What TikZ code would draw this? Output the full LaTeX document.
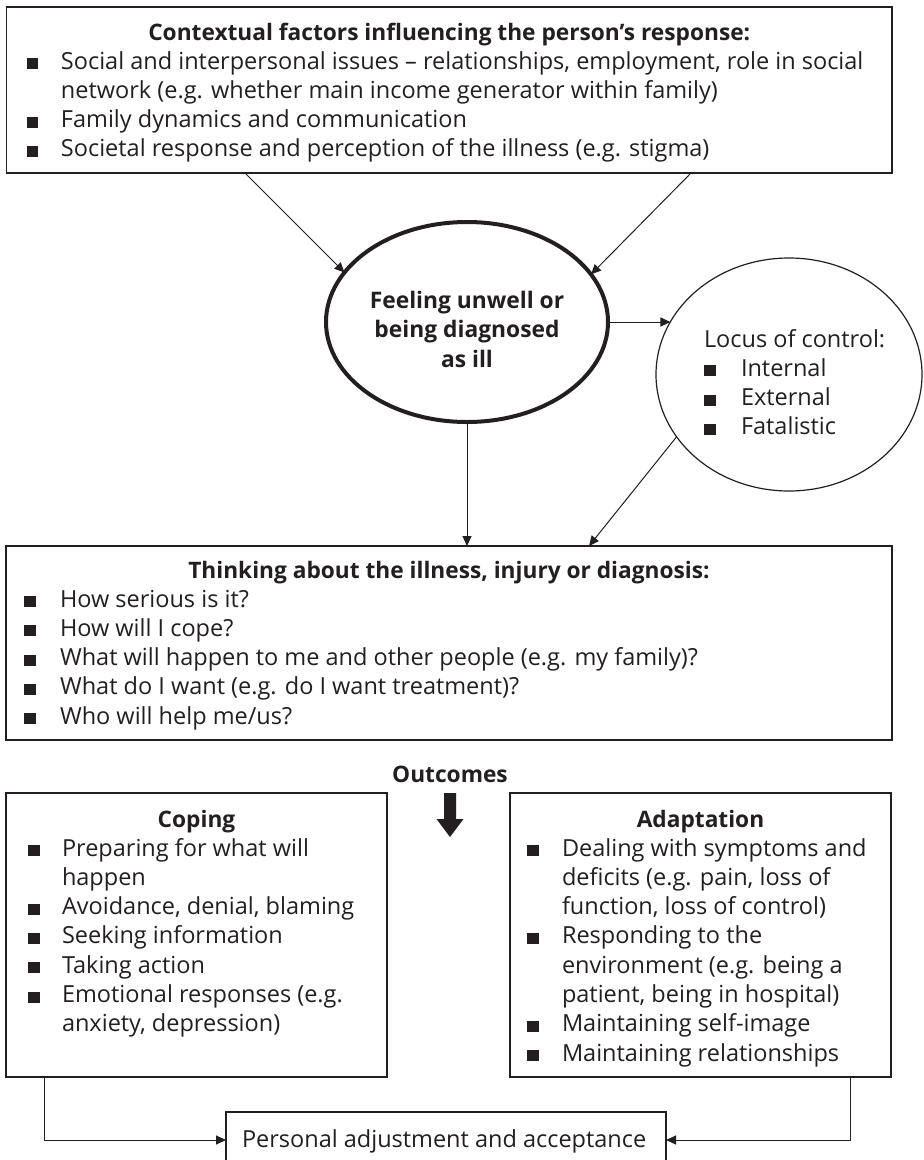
\documentclass[tikz,border=0pt]{standalone}
\usepackage{fontspec}
\setmainfont{Open Sans}
\usetikzlibrary{arrows.meta,shapes.geometric}
\definecolor{ink}{RGB}{35,31,32}
\newcommand{\bsq}{\rule{11.5pt}{11pt}}
\newcommand{\bitem}[2][34pt]{\par\noindent\hangindent=#1\hangafter=1\makebox[#1][l]{\bsq}#2}
\begin{document}
\begin{tikzpicture}[x=1pt,y=-1pt,
  box/.style={draw=ink, line width=1.2pt, rectangle, inner sep=0pt, outer sep=0pt},
  oval/.style={draw=ink, ellipse, inner sep=0pt, outer sep=0pt},
  txt/.style={inner sep=0pt, outer sep=0pt, text=ink, font=\fontsize{23.5}{29.3}\selectfont},
  ttl/.style={txt, font=\fontsize{22.7}{29.3}\selectfont\bfseries, anchor=base},
  lst/.style={txt, anchor=base west},
  arr/.style={draw=ink, line width=1pt, -{Triangle[length=10pt,width=9pt]}}]
\useasboundingbox (0,0) rectangle (924,1160);
\clip (0,0) rectangle (924,1160);
\fill[white] (0,0) rectangle (924,1160);

% boxes and ellipses
\node[box, minimum width=885.5pt, minimum height=166pt] (ctx) at (449.25,90) {};
\node[oval, line width=4pt, minimum width=282pt, minimum height=200pt] (ill) at (467,322) {};
\node[oval, line width=1.2pt, minimum width=266pt, minimum height=233pt] (loc) at (789,374.5) {};
\node[box, minimum width=886pt, minimum height=194pt] (think) at (449,643) {};
\node[box, minimum width=381pt, minimum height=284pt] (cope) at (196.5,935) {};
\node[box, minimum width=381pt, minimum height=284pt] (adapt) at (700.5,935) {};
\node[box, minimum width=440pt, minimum height=56pt] (pers) at (446,1140) {};

% texts
\node[ttl] (ctxT) at (449.25,40) {Contextual factors influencing the person’s response:};
\node[lst] (ctxL) at (27,69) {\parbox[t]{1000pt}{
  \bitem{Social and interpersonal issues – relationships, employment, role in social\newline network (e.g. whether main income generator within family)}
  \bitem{Family dynamics and communication}
  \bitem{Societal response and perception of the illness (e.g. stigma)}}};

\node[txt, anchor=base] (illT) at (467,308) {\parbox[t]{280pt}{\centering\fontsize{22.8}{29.5}\selectfont\bfseries Feeling unwell or\\being diagnosed\\as ill}};

\node[lst] (locL) at (704,347) {\parbox[t]{1000pt}{\noindent Locus of control:
  \bitem[37pt]{Internal}
  \bitem[37pt]{External}
  \bitem[37pt]{Fatalistic}}};

\node[ttl] (thinkT) at (449,578) {Thinking about the illness, injury or diagnosis:};
\node[lst] (thinkL) at (24,607) {\parbox[t]{1000pt}{
  \bitem[36pt]{How serious is it?}
  \bitem[36pt]{How will I cope?}
  \bitem[36pt]{What will happen to me and other people (e.g. my family)?}
  \bitem[36pt]{What do I want (e.g. do I want treatment)?}
  \bitem[36pt]{Who will help me/us?}}};

\node[ttl] (outT) at (450,782) {Outcomes};

\node[ttl] (copeT) at (196.5,827) {Coping};
\node[lst] (copeL) at (28,856) {\parbox[t]{1000pt}{
  \bitem{Preparing for what will\newline happen}
  \bitem{Avoidance, denial, blaming}
  \bitem{Seeking information}
  \bitem{Taking action}
  \bitem{Emotional responses (e.g.\newline anxiety, depression)}}};

\node[ttl] (adaptT) at (700.5,827) {Adaptation};
\node[lst] (adaptL) at (527,856) {\parbox[t]{1000pt}{
  \bitem[35pt]{Dealing with symptoms and\newline deficits (e.g. pain, loss of\newline function, loss of control)}
  \bitem[35pt]{Responding to the\newline environment (e.g. being a\newline patient, being in hospital)}
  \bitem[35pt]{Maintaining self-image}
  \bitem[35pt]{Maintaining relationships}}};

\node[lst] (persT) at (242,1147) {Personal adjustment and acceptance};

% connectors
\draw[arr] ([xshift=238.5pt]ctx.south west) -- (ill.158.4);
\draw[arr] ([xshift=684.5pt]ctx.south west) -- (ill.21.5);
\draw[arr] (ill.east) -- (ill.east -| loc.156.2);
\draw[arr] (ill.south) -- (ill.south |- think.north);
\draw[arr] (loc.209.6) -- ([xshift=583pt]think.north west);
\draw[arr] ([xshift=38pt]cope.south west) |- (pers.west);
\draw[arr] ([xshift=340pt]adapt.south west) |- (pers.east);

% big outcome arrow
\fill[ink] (444,793) -- (456,793) -- (456,819) -- (463.5,819) -- (450,837)
  -- (436.5,819) -- (444,819) -- cycle;
\end{tikzpicture}
\end{document}
